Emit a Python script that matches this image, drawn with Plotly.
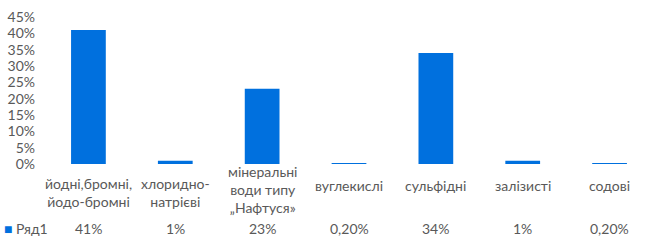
import plotly.graph_objects as go

categories = [
    "йодні,бромні,<br>йодо-бромні",
    "хлоридно-<br>натрієві",
    "мінеральні<br>води типу<br>„Нафтуся»",
    "вуглекислі",
    "сульфідні",
    "залізисті",
    "содові",
]
values = [0.41, 0.01, 0.23, 0.002, 0.34, 0.01, 0.002]
value_labels = ["41%", "1%", "23%", "0,20%", "34%", "1%", "0,20%"]
series_name = "Ряд1"
y_ticks = [0, 0.05, 0.10, 0.15, 0.20, 0.25, 0.30, 0.35, 0.40, 0.45]
y_tick_labels = ["0%", "5%", "10%", "15%", "20%", "25%", "30%", "35%", "40%", "45%"]

BLUE = "#0070DE"
GREY = "#595959"
FONT = "Lato"
FS = 14

W, H = 661, 240
ML, MR, MT, MB = 44, 8, 14, 76
plot_h = H - MT - MB


def py(pixel_y):
    return (H - MB - pixel_y) / plot_h


x_idx = list(range(len(categories)))

fig = go.Figure()
fig.add_trace(go.Bar(x=x_idx, y=values, marker=dict(color=BLUE, line=dict(width=0)),
                     name=series_name, showlegend=False, hoverinfo="skip"))

annotations = []
centers = {1: 186, 2: 193, 3: 190}
for i, (c, v) in enumerate(zip(categories, value_labels)):
    n = c.count("<br>") + 1
    annotations.append(dict(x=i, y=py(centers[n]), xref="x", yref="paper", text=c,
                            showarrow=False, xanchor="center", yanchor="middle",
                            font=dict(family=FONT, size=FS, color=GREY)))
    annotations.append(dict(x=i, y=py(230), xref="x", yref="paper", text=v,
                            showarrow=False, xanchor="center", yanchor="middle",
                            font=dict(family=FONT, size=FS, color=GREY)))

annotations.append(dict(x=0, y=py(230), xref="paper", yref="paper",
                        xshift=-ML + 1,
                        text=f"<span style='color:{BLUE}'>■</span> {series_name}",
                        showarrow=False, xanchor="left", yanchor="middle",
                        font=dict(family=FONT, size=FS, color=GREY)))

fig.update_layout(
    width=W, height=H,
    margin=dict(l=ML, r=MR, t=MT, b=MB),
    plot_bgcolor="white", paper_bgcolor="white",
    bargap=0.6,
    xaxis=dict(range=[-0.5, len(categories) - 0.5], showticklabels=False,
               showgrid=False, zeroline=False, showline=False, ticks=""),
    yaxis=dict(range=[0, 0.45], tickvals=y_ticks, ticktext=y_tick_labels,
               showgrid=False, zeroline=False, showline=False, ticks="",
               ticklabelstandoff=9,
               tickfont=dict(family=FONT, size=FS, color=GREY)),
    annotations=annotations,
    font=dict(family=FONT, color=GREY),
)

fig.write_html("out.html", config={"displayModeBar": False},
               post_script="document.body.style.margin='0';document.body.style.overflow='hidden';")
